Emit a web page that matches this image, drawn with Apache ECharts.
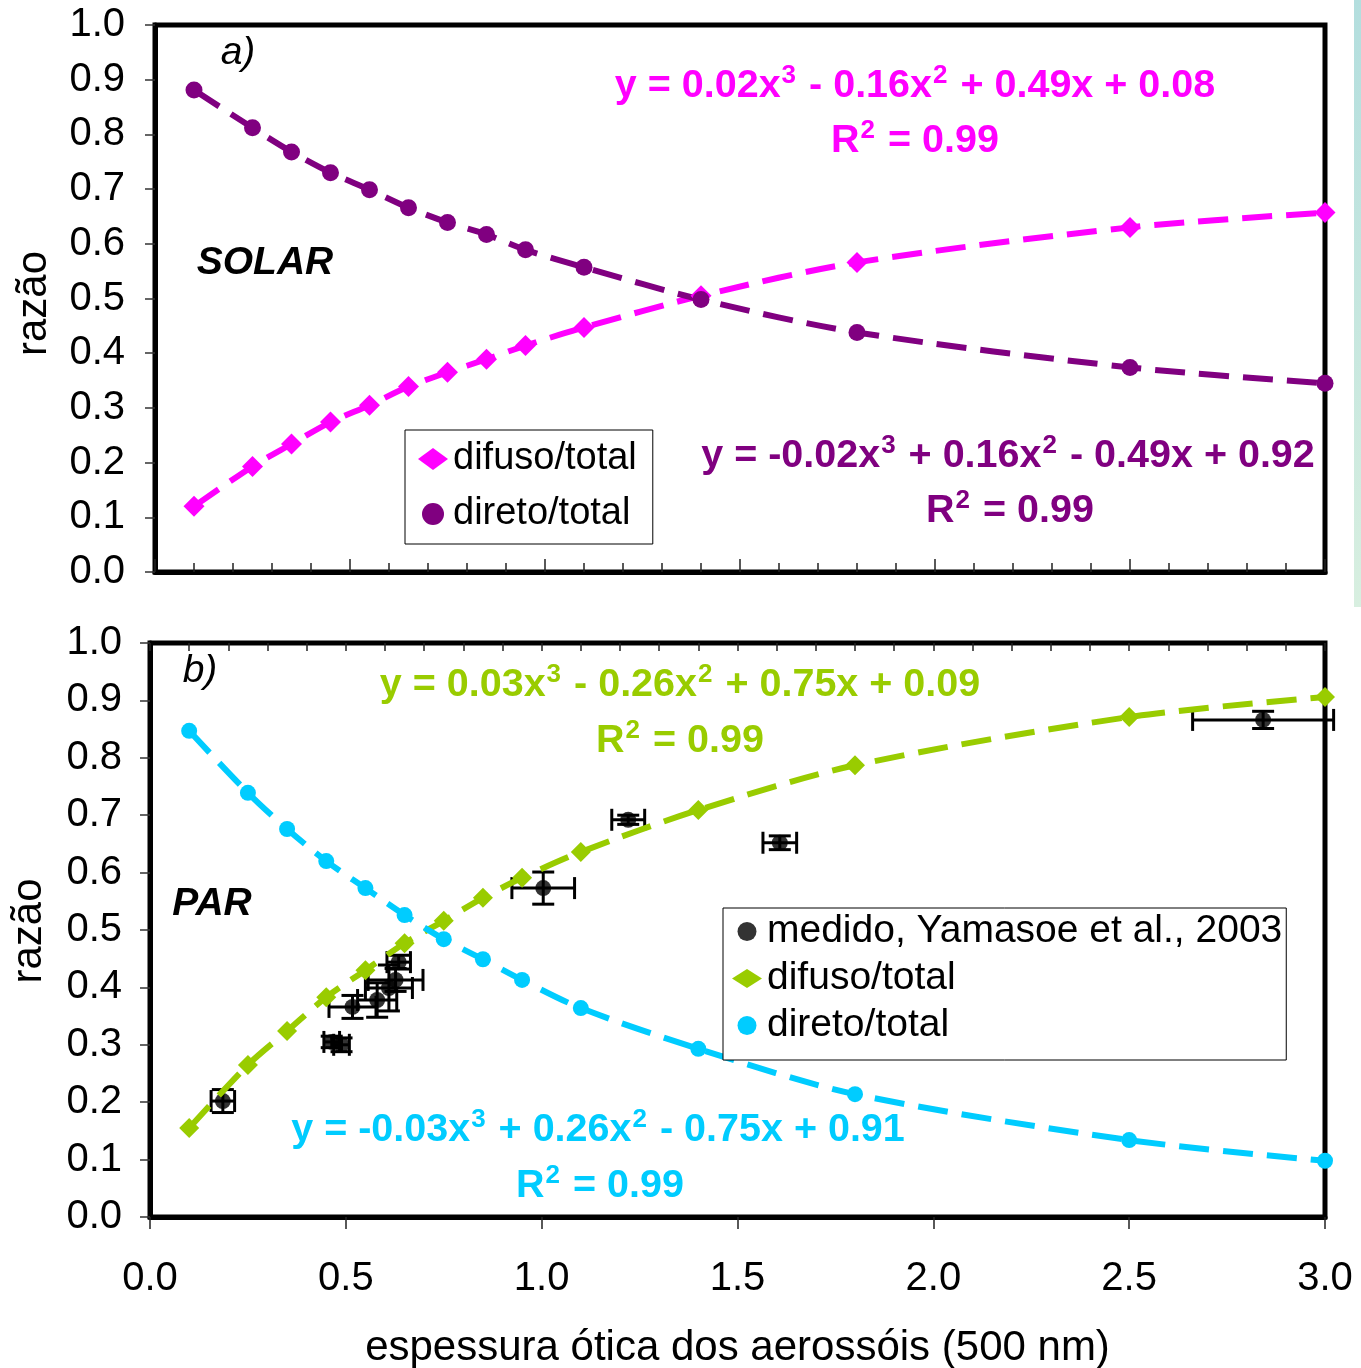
<!DOCTYPE html>
<html><head><meta charset="utf-8">
<script src="https://cdn.jsdelivr.net/npm/echarts@6/dist/echarts.min.js"></script>
<style>html,body{margin:0;padding:0;background:#fff}#c{width:1361px;height:1368px}</style>
</head><body><div id="c"></div>
<script>
const FONT = '"Liberation Sans", Arial, Helvetica, sans-serif';

// ---- data ----
const aod = [0.1, 0.25, 0.35, 0.45, 0.55, 0.65, 0.75, 0.85, 0.95, 1.1, 1.4, 1.8, 2.5, 3.0];
const solarDifuso = [0.120, 0.193, 0.234, 0.274, 0.305, 0.339, 0.365, 0.389, 0.414, 0.447, 0.505, 0.566, 0.630, 0.657];
const solarDireto = [0.881, 0.812, 0.768, 0.730, 0.699, 0.666, 0.639, 0.617, 0.589, 0.557, 0.498, 0.438, 0.374, 0.345];
const parDifuso = [0.155, 0.265, 0.324, 0.383, 0.430, 0.477, 0.516, 0.556, 0.591, 0.636, 0.709, 0.787, 0.871, 0.906];
const parDireto = [0.847, 0.739, 0.676, 0.620, 0.573, 0.526, 0.484, 0.449, 0.413, 0.364, 0.293, 0.214, 0.134, 0.098];
const medX    = [0.186, 0.464, 0.489, 0.517, 0.580, 0.610, 0.627, 0.635, 1.004, 1.221, 1.608, 2.842];
const medY    = [0.202, 0.305, 0.300, 0.366, 0.378, 0.399, 0.413, 0.444, 0.573, 0.692, 0.652, 0.866];
const medErrX = [0.030, 0.020, 0.020, 0.060, 0.050, 0.060, 0.070, 0.030, 0.080, 0.042, 0.043, 0.180];
const medErrY = [0.020, 0.010, 0.012, 0.020, 0.030, 0.040, 0.020, 0.012, 0.028, 0.008, 0.012, 0.015];
const yTickFmt = v => v.toFixed(1);
const xTickFmt = v => v.toFixed(1);

const C_MAG = '#FF00FF', C_PUR = '#800080', C_GRN = '#99CC00', C_CYN = '#00CCFF';

function pairs(xs, ys) { return xs.map((x, i) => [x, ys[i]]); }

function eqText(x, y, color, text) {
  return {
    type: 'text', x: x, y: y, z: 50,
    style: {
      text: text,
      align: 'center', verticalAlign: 'middle',
      textAlign: 'center', textVerticalAlign: 'middle',
      rich: {
        n: { fontSize: 39.5, fontWeight: 'bold', fontFamily: FONT, fill: color, color: color, lineHeight: 46 },
        s: { fontSize: 26, fontWeight: 'bold', fontFamily: FONT, fill: color, color: color, lineHeight: 27, verticalAlign: 'top', padding: [0, 2, 0, 1] }
      }
    }
  };
}
function plainText(x, y, text, fontSize, fontWeight, fontStyle) {
  return {
    type: 'text', x: x, y: y, z: 50,
    style: {
      text: text, fill: '#000', fontSize: fontSize, fontWeight: fontWeight, fontStyle: fontStyle, fontFamily: FONT,
      align: 'center', verticalAlign: 'middle', textAlign: 'center', textVerticalAlign: 'middle'
    }
  };
}

const lineDash = [30, 14];
function fitLine(name, xi, yi, data, color, symbol, size) {
  return {
    name: name, type: 'line', xAxisIndex: xi, yAxisIndex: yi, data: data,
    smooth: 0.3, symbol: symbol, symbolSize: size, showSymbol: true,
    itemStyle: { color: color, borderWidth: 0 },
    lineStyle: { color: color, width: 6, type: lineDash, cap: 'butt' },
    z: 3
  };
}

const yAxisBase = (gi, margin, namePad) => ({
  gridIndex: gi, type: 'value', min: 0, max: 1, interval: 0.1,
  axisLine: { show: true, lineStyle: { color: '#000', width: 5 } },
  axisTick: { show: true, inside: false, length: 10, lineStyle: { color: '#333', width: 1.5 } },
  axisLabel: { fontSize: 40, color: '#000', fontFamily: FONT, margin: margin, formatter: yTickFmt },
  splitLine: { show: false },
  name: 'razão', nameLocation: 'middle', nameGap: 100,
  nameTextStyle: { fontSize: 42, color: '#000', fontFamily: FONT, padding: namePad }
});

const option = {
  animation: false,
  backgroundColor: '#fff',
  grid: [
    { left: 155, top: 25, width: 1170, height: 547, show: true, borderColor: '#000', borderWidth: 5, backgroundColor: '#fff',
      containLabel: false, outerBoundsMode: 'none' },
    { left: 150, top: 643, width: 1175, height: 574, show: true, borderColor: '#000', borderWidth: 5, backgroundColor: '#fff',
      containLabel: false, outerBoundsMode: 'none' }
  ],
  xAxis: [
    { gridIndex: 0, type: 'value', min: 0, max: 3, interval: 0.5,
      axisLine: { show: true, lineStyle: { color: '#000', width: 5 } },
      axisTick: { show: true, inside: true, length: 13, lineStyle: { color: '#222', width: 1.5 } },
      minorTick: { show: true, splitNumber: 5, length: 9, lineStyle: { color: '#222', width: 1.5 } },
      axisLabel: { show: false }, splitLine: { show: false }, minorSplitLine: { show: false } },
    { gridIndex: 1, type: 'value', min: 0, max: 3, interval: 0.5,
      axisLine: { show: true, lineStyle: { color: '#000', width: 5 } },
      axisTick: { show: true, inside: false, length: 12, lineStyle: { color: '#222', width: 1.5 } },
      axisLabel: { fontSize: 40, color: '#000', fontFamily: FONT, margin: 42, formatter: xTickFmt },
      splitLine: { show: false },
      name: 'espessura ótica dos aerossóis (500 nm)', nameLocation: 'middle', nameGap: 110,
      nameTextStyle: { fontSize: 42, color: '#000', fontFamily: FONT } },
    { gridIndex: 1, type: 'value', min: 0, max: 3, interval: 0.1,
      axisLine: { show: false },
      axisTick: { show: true, inside: true, length: 8, lineStyle: { color: '#222', width: 1.5 } },
      axisLabel: { show: false }, splitLine: { show: false } }
  ],
  yAxis: [ yAxisBase(0, 30, [0, 10, 0, 0]), yAxisBase(1, 28, [0, 2, 0, 0]) ],
  legend: [
    { orient: 'vertical', left: 405, top: 430, itemWidth: 30, itemHeight: 22, itemGap: 17,
      padding: [10, 16, 11, 13], borderColor: '#000', borderWidth: 1, backgroundColor: '#fff',
      textStyle: { fontSize: 38, color: '#000', fontFamily: FONT },
      itemStyle: { borderWidth: 0 }, lineStyle: { width: 0, opacity: 0 },
      data: [ { name: 'difuso/total', icon: 'diamond' }, { name: 'direto/total', icon: 'circle' } ] },
    { orient: 'vertical', left: 723, top: 908, itemWidth: 30, itemHeight: 19, itemGap: 8,
      padding: [4, 4, 15, 9], borderColor: '#000', borderWidth: 1, backgroundColor: '#fff',
      textStyle: { fontSize: 39, color: '#000', fontFamily: FONT },
      itemStyle: { borderWidth: 0 }, lineStyle: { width: 0, opacity: 0 },
      formatter: n => n.replace(' (PAR)', ''),
      data: [ { name: 'medido, Yamasoe et al., 2003', icon: 'circle' },
              { name: 'difuso/total (PAR)', icon: 'diamond' },
              { name: 'direto/total (PAR)', icon: 'circle' } ] }
  ],
  graphic: [
    { type: 'rect', shape: { x: 1354, y: 0, width: 7, height: 607 }, z: 0,
      style: { fill: { type: 'linear', x: 0, y: 0, x2: 0, y2: 1,
        colorStops: [ { offset: 0, color: '#b3dede' }, { offset: 1, color: '#d8efe0' } ] } } },
    eqText(915, 86, C_MAG, '{n|y = 0.02x}{s|3}{n| - 0.16x}{s|2}{n| + 0.49x + 0.08}'),
    eqText(915, 141, C_MAG, '{n|R}{s|2}{n| = 0.99}'),
    eqText(1008, 456, C_PUR, '{n|y = -0.02x}{s|3}{n| + 0.16x}{s|2}{n| - 0.49x + 0.92}'),
    eqText(1010, 511, C_PUR, '{n|R}{s|2}{n| = 0.99}'),
    eqText(680, 685, C_GRN, '{n|y = 0.03x}{s|3}{n| - 0.26x}{s|2}{n| + 0.75x + 0.09}'),
    eqText(680, 741, C_GRN, '{n|R}{s|2}{n| = 0.99}'),
    eqText(598, 1130, C_CYN, '{n|y = -0.03x}{s|3}{n| + 0.26x}{s|2}{n| - 0.75x + 0.91}'),
    eqText(600, 1186, C_CYN, '{n|R}{s|2}{n| = 0.99}'),
    plainText(238, 53, 'a)', 39, 'normal', 'italic'),
    plainText(200, 671, 'b)', 39, 'normal', 'italic'),
    plainText(265, 263, 'SOLAR', 39, 'bold', 'italic'),
    plainText(212, 904, 'PAR', 39, 'bold', 'italic')
  ],
  series: [
    fitLine('difuso/total', 0, 0, pairs(aod, solarDifuso), C_MAG, 'diamond', 21),
    fitLine('direto/total', 0, 0, pairs(aod, solarDireto), C_PUR, 'circle', 17),
    { name: 'errorbars', type: 'custom', xAxisIndex: 1, yAxisIndex: 1, clip: false, z: 1,
      data: medX.map((x, i) => [x, medY[i], medErrX[i], medErrY[i]]),
      encode: { x: 0, y: 1 },
      renderItem: function (params, api) {
        const x = api.value(0), y = api.value(1), ex = api.value(2), ey = api.value(3);
        const l = api.coord([x - ex, y]), r = api.coord([x + ex, y]);
        const t = api.coord([x, y + ey]), b = api.coord([x, y - ey]);
        const cap = 11;
        const st = { stroke: '#000', lineWidth: 3 };
        return { type: 'group', children: [
          { type: 'line', shape: { x1: l[0], y1: l[1], x2: r[0], y2: r[1] }, style: st },
          { type: 'line', shape: { x1: l[0], y1: l[1] - cap, x2: l[0], y2: l[1] + cap }, style: st },
          { type: 'line', shape: { x1: r[0], y1: r[1] - cap, x2: r[0], y2: r[1] + cap }, style: st },
          { type: 'line', shape: { x1: t[0], y1: t[1], x2: b[0], y2: b[1] }, style: st },
          { type: 'line', shape: { x1: t[0] - cap, y1: t[1], x2: t[0] + cap, y2: t[1] }, style: st },
          { type: 'line', shape: { x1: b[0] - cap, y1: b[1], x2: b[0] + cap, y2: b[1] }, style: st }
        ] };
      } },
    { name: 'medido, Yamasoe et al., 2003', type: 'scatter', xAxisIndex: 1, yAxisIndex: 1,
      data: pairs(medX, medY), symbol: 'circle', symbolSize: 16, itemStyle: { color: '#000' }, z: 2 },
    fitLine('difuso/total (PAR)', 1, 1, pairs(aod, parDifuso), C_GRN, 'diamond', 20),
    fitLine('direto/total (PAR)', 1, 1, pairs(aod, parDireto), C_CYN, 'circle', 16)
  ]
};

const chart = echarts.init(document.getElementById('c'), null, { renderer: 'canvas' });
chart.setOption(option);
</script>
</body></html>
